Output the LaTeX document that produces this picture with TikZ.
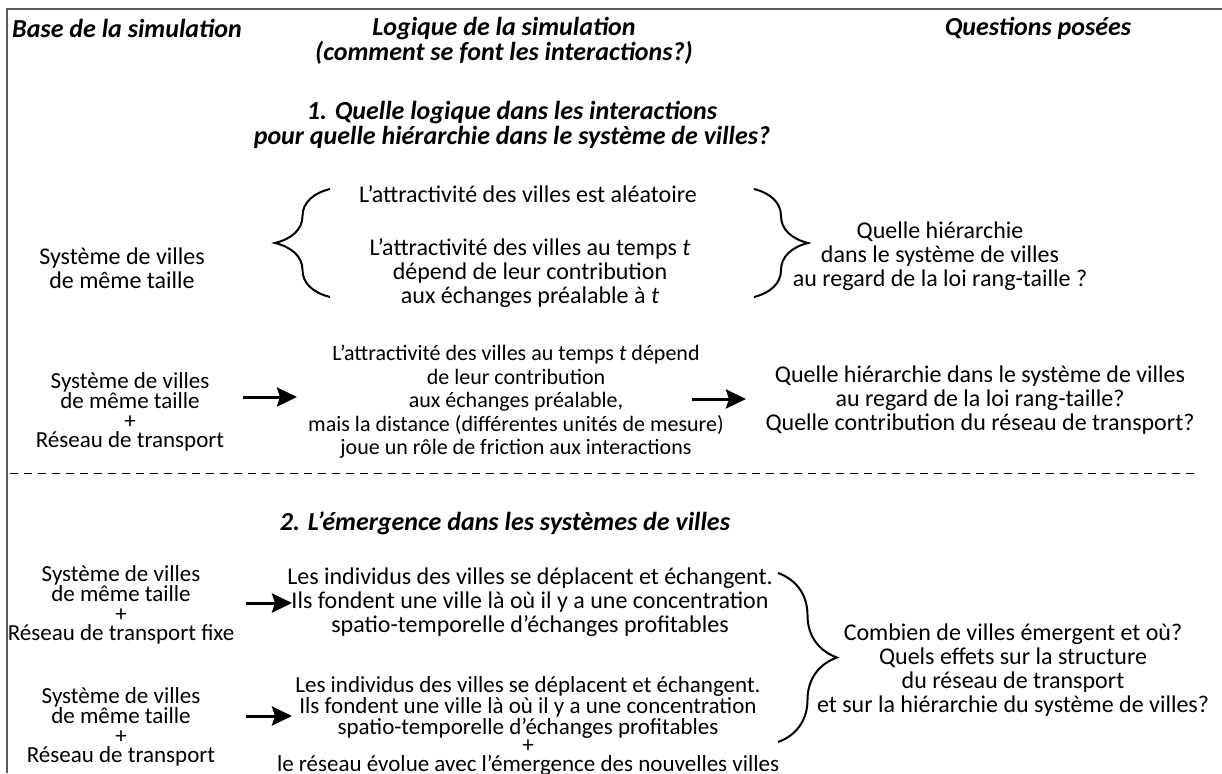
\documentclass[tikz,border=0pt]{standalone}
\usepackage{fontspec}
\setmainfont{Carlito}
\usetikzlibrary{arrows.meta,decorations.pathreplacing}
\begin{document}
\begin{tikzpicture}[x=1pt,y=-1pt,
  txt/.style={align=center,inner sep=0pt,font=\fontsize{24}{24}\selectfont},
  mid/.style={align=center,inner sep=0pt,font=\fontsize{22}{23.5}\selectfont},
  tight/.style={align=center,inner sep=0pt,font=\fontsize{23}{19.5}\selectfont},
  tightm/.style={align=center,inner sep=0pt,font=\fontsize{23}{18.2}\selectfont},
  head/.style={align=center,inner sep=0pt,font=\fontsize{26}{25}\selectfont\bfseries\itshape},
  arr/.style={line width=3pt,-{Stealth[length=20pt,width=19pt,inset=3pt]}},
  brc/.style={line width=2pt,decorate,decoration={brace,amplitude=#1}},
  frame/.style={draw=black!65,line width=1.2pt}]
\useasboundingbox (0,0) rectangle (1222,773);
\draw[frame] (7,773) -- (7,9) -- (1222,9);

% headers
\node[head,anchor=west] (hA) at (12,28) {Base de la simulation};
\node[head] (hB) at (504,41) {Logique de la simulation\\(comment se font les interactions?)};
\node[head] (hC) at (1038,28) {Questions posées};
\node[head] (s1) at (512,125) {1. Quelle logique dans les interactions\\pour quelle hiérarchie dans le système de villes?};

% row 1
\node[txt] (l1) at (122,268) {Système de villes\\de même taille};
\draw[brc=55] (330,297) -- (330,189);
\node[txt] (m1a) at (528,194) {L’attractivité des villes est aléatoire};
\node[txt] (m1b) at (530,273) {L’attractivité des villes au temps \textit{t}\\dépend de leur contribution\\aux échanges préalable à \textit{t}};
\draw[brc=54] (754,189) -- (754,297);
\node[txt] (r1) at (940,256) {Quelle hiérarchie\\dans le système de villes\\au regard de la loi rang-taille ?};

% row 2
\node[tight] (l2) at (130,412) {Système de villes\\de même taille\\+\\Réseau de transport};
\node[mid] (m2) at (516,402) {L’attractivité des villes au temps \textit{t} dépend\\de leur contribution\\aux échanges préalable,\\mais la distance (différentes unités de mesure)\\joue un rôle de friction aux interactions};
\node[txt] (r2) at (980,400) {Quelle hiérarchie dans le système de villes\\au regard de la loi rang-taille?\\Quelle contribution du réseau de transport?};
\coordinate (a2s) at (243,397);
\coordinate (a2e) at (297,397);
\coordinate (b2s) at (692,399);
\coordinate (b2e) at (746,399);
\draw[arr] (a2s) -- (a2e);
\draw[arr] (b2s) -- (b2e);

% separator
\draw[line width=1pt,dash pattern=on 8pt off 6pt] (10,473) -- (1195,473);

\node[head] (s2) at (505,523) {2. L’émergence dans les systèmes de villes};

% row 3
\node[tight] (l3) at (121,605) {Système de villes\\de même taille\\+\\Réseau de transport fixe};
\node[txt] (m3) at (530,602) {Les individus des villes se déplacent et échangent.\\Ils fondent une ville là où il y a une concentration\\spatio-temporelle d’échanges profitables};
\coordinate (a3s) at (246,603);
\coordinate (a3e) at (292,603);
\draw[arr] (a3s) -- (a3e);

% row 4
\node[tight] (l4) at (121,727) {Système de villes\\de même taille\\+\\Réseau de transport};
\node[tightm] (m4) at (528,726) {Les individus des villes se déplacent et échangent.\\Ils fondent une ville là où il y a une concentration\\spatio-temporelle d’échanges profitables\\+\\le réseau évolue avec l’émergence des nouvelles villes};
\coordinate (a4s) at (246,716);
\coordinate (a4e) at (292,716);
\draw[arr] (a4s) -- (a4e);

\draw[brc=59] (778,573) -- (778,742);
\node[txt] (r3) at (1013,670) {Combien de villes émergent et où?\\Quels effets sur la structure\\du réseau de transport\\et sur la hiérarchie du système de villes?};
\end{tikzpicture}
\end{document}
